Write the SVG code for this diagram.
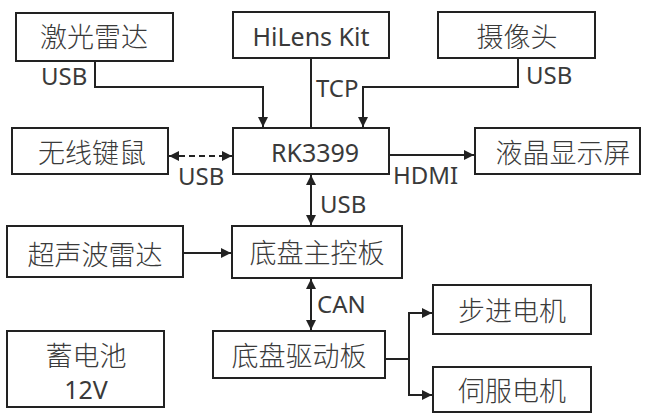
<svg xmlns="http://www.w3.org/2000/svg" width="648" height="413" viewBox="0 0 648 413">
<style>
.box{fill:#fff;stroke:#222;stroke-width:2}
.t{font-family:"Noto Sans CJK SC","Noto Sans",sans-serif;font-size:27px;font-weight:300;fill:#3a3a3a;text-anchor:middle}
.tl{font-family:"Noto Sans","Noto Sans CJK SC",sans-serif;font-size:25px;fill:#3a3a3a;text-anchor:middle}
.l{font-family:"Noto Sans","Noto Sans CJK SC",sans-serif;font-size:24px;fill:#3a3a3a}
.c{fill:none;stroke:#222;stroke-width:2}
.d{fill:none;stroke:#222;stroke-width:2;stroke-dasharray:6 4}
</style>
<defs>
<marker id="a" viewBox="0 0 10 10" refX="10" refY="5" markerWidth="10" markerHeight="10" markerUnits="userSpaceOnUse" orient="auto-start-reverse">
<path d="M0,0 L10,5 L0,10 z" fill="#222"/>
</marker>
</defs>
<rect width="648" height="413" fill="#fff"/>
<g id="connectors">
<polyline class="c" points="95,61 95,87 263,87 263,127" marker-end="url(#a)"/>
<line class="c" x1="311" y1="58" x2="311" y2="128"/>
<polyline class="c" points="518,58 518,87 363,87 363,127" marker-end="url(#a)"/>
<line class="d" x1="169" y1="156" x2="232" y2="156" marker-start="url(#a)" marker-end="url(#a)"/>
<line class="c" x1="389" y1="155" x2="474" y2="155" marker-end="url(#a)"/>
<line class="c" x1="311" y1="175" x2="311" y2="225" marker-start="url(#a)" marker-end="url(#a)"/>
<line class="c" x1="183" y1="253" x2="231" y2="253" marker-end="url(#a)"/>
<line class="c" x1="311" y1="279" x2="311" y2="330" marker-start="url(#a)" marker-end="url(#a)"/>
<polyline class="c" points="385,359 409,359"/>
<polyline class="c" points="432,313 409,313 409,395 432,395"/>
<line class="c" x1="420" y1="313" x2="432" y2="313" marker-end="url(#a)"/>
<line class="c" x1="420" y1="395" x2="432" y2="395" marker-end="url(#a)"/>
<text class="l" x="41" y="85">USB</text>
<text class="l" x="316" y="97">TCP</text>
<text class="l" x="526" y="84">USB</text>
<text class="l" x="178" y="185">USB</text>
<text class="l" x="393" y="184">HDMI</text>
<text class="l" x="320" y="213">USB</text>
<text class="l" x="317" y="313">CAN</text>
</g>
<g id="n-lidar"><rect class="box" x="16" y="13" width="157" height="48"/><text class="t" x="94" y="47">激光雷达</text></g>
<g id="n-hilens"><rect class="box" x="233" y="12" width="156" height="46"/><text class="tl" x="311" y="46">HiLens Kit</text></g>
<g id="n-camera"><rect class="box" x="438" y="12" width="157" height="46"/><text class="t" x="517" y="47">摄像头</text></g>
<g id="n-kbm"><rect class="box" x="12" y="128" width="156" height="46"/><text class="t" x="92" y="163">无线键鼠</text></g>
<g id="n-rk"><rect class="box" x="233" y="128" width="156" height="46"/><text class="tl" x="315" y="162">RK3399</text></g>
<g id="n-lcd"><rect class="box" x="475" y="128" width="165" height="46"/><text class="t" x="563" y="163">液晶显示屏</text></g>
<g id="n-ultra"><rect class="box" x="7" y="226" width="176" height="51"/><text class="t" x="95" y="265">超声波雷达</text></g>
<g id="n-main"><rect class="box" x="232" y="226" width="170" height="52"/><text class="t" x="317" y="263">底盘主控板</text></g>
<g id="n-drv"><rect class="box" x="213" y="331" width="172" height="47"/><text class="t" x="299" y="366">底盘驱动板</text></g>
<g id="n-step"><rect class="box" x="433" y="285" width="158" height="49"/><text class="t" x="512" y="321">步进电机</text></g>
<g id="n-servo"><rect class="box" x="433" y="367" width="158" height="45"/><text class="t" x="512" y="401">伺服电机</text></g>
<g id="n-bat"><rect class="box" x="7" y="331" width="157" height="76"/><text class="t" x="86" y="366">蓄电池</text><text class="tl" x="86" y="399">12V</text></g>
</svg>
